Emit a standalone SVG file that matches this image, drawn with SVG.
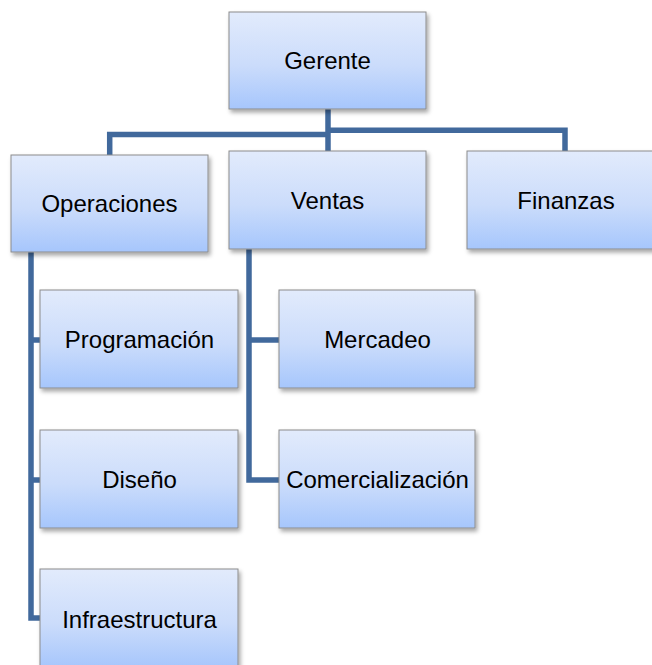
<svg xmlns="http://www.w3.org/2000/svg" width="652" height="665" viewBox="0 0 652 665">
  <defs>
    <linearGradient id="boxGrad" x1="0" y1="0" x2="0" y2="1">
      <stop offset="0" stop-color="#e2ebfc"/>
      <stop offset="0.55" stop-color="#cbdcfb"/>
      <stop offset="1" stop-color="#a6c6fc"/>
    </linearGradient>
    <filter id="shadow" x="-10%" y="-10%" width="125%" height="130%">
      <feDropShadow dx="2" dy="3" stdDeviation="2" flood-color="#000000" flood-opacity="0.35"/>
    </filter>
  </defs>
  <style>
    .box { fill: url(#boxGrad); stroke: #8c8c8c; stroke-width: 1; filter: url(#shadow); }
    .label { font-family: "Liberation Sans", Arial, sans-serif; font-size: 24px; fill: #000000; text-anchor: middle; }
    .conn { fill: none; stroke: #41699c; stroke-width: 5.5; stroke-linejoin: miter; stroke-linecap: butt; }
  </style>
  <rect width="652" height="665" fill="#ffffff"/>
  <g id="connectors">
    <path class="conn" d="M328,109 V151"/>
    <path class="conn" d="M109.7,155 V134.5 H328"/>
    <path class="conn" d="M565,151 V130.3 H328"/>
    <path class="conn" d="M31,252 V618 H40"/>
    <path class="conn" d="M31,340 H40"/>
    <path class="conn" d="M31,480 H40"/>
    <path class="conn" d="M249,249 V480 H279"/>
    <path class="conn" d="M249,340 H279"/>
  </g>
  <g id="gerente">
    <rect class="box" x="229" y="12" width="197" height="97"/>
    <text class="label" x="327.5" y="69">Gerente</text>
  </g>
  <g id="operaciones">
    <rect class="box" x="11" y="155" width="197" height="97"/>
    <text class="label" x="109.5" y="212">Operaciones</text>
  </g>
  <g id="ventas">
    <rect class="box" x="229" y="151" width="197" height="98"/>
    <text class="label" x="327.5" y="208.5">Ventas</text>
  </g>
  <g id="finanzas">
    <rect class="box" x="467" y="151" width="197" height="98"/>
    <text class="label" x="566" y="208.5">Finanzas</text>
  </g>
  <g id="programacion">
    <rect class="box" x="40" y="290" width="198" height="98"/>
    <text class="label" x="139.5" y="347.5">Programación</text>
  </g>
  <g id="mercadeo">
    <rect class="box" x="279" y="290" width="196" height="98"/>
    <text class="label" x="377.5" y="347.5">Mercadeo</text>
  </g>
  <g id="diseno">
    <rect class="box" x="40" y="430" width="198" height="98"/>
    <text class="label" x="139.5" y="487.5">Diseño</text>
  </g>
  <g id="comercializacion">
    <rect class="box" x="279" y="430" width="196" height="98"/>
    <text class="label" x="377.5" y="487.5">Comercialización</text>
  </g>
  <g id="infraestructura">
    <rect class="box" x="40" y="569" width="198" height="99"/>
    <text class="label" x="139.5" y="627.5">Infraestructura</text>
  </g>
</svg>
